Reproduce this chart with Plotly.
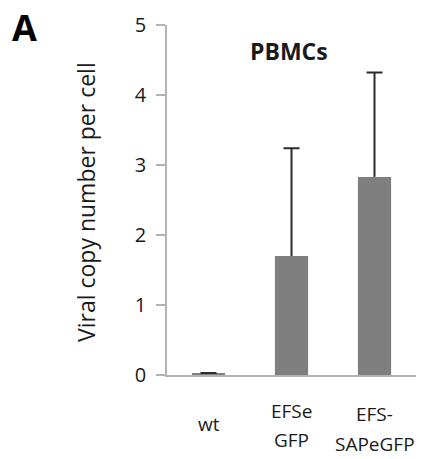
import plotly.graph_objects as go

categories = ["wt", "EFSe GFP", "EFS-SAPeGFP"]
label_lines = [["wt"], ["EFSe", "GFP"], ["EFS-", "SAPeGFP"]]
values = [0.03, 1.70, 2.83]
errors = [0.0, 1.54, 1.49]
y_ticks = [0, 1, 2, 3, 4, 5]

FONT = "Open Sans"
TXT = "#1a1a1a"
xs = list(range(len(categories)))
tops = [v + e for v, e in zip(values, errors)]

fig = go.Figure()
fig.add_trace(go.Bar(
    x=xs, y=values, width=0.4,
    marker=dict(color="#7f7f7f", line=dict(width=0)),
    error_y=dict(type="data", array=errors, arrayminus=[0] * len(errors), symmetric=False,
                 color="#2b2b2b", thickness=2, width=0),
    showlegend=False, hoverinfo="skip",
))
# caps at the top of each error bar
fig.add_trace(go.Scatter(
    x=xs, y=tops, mode="markers", marker=dict(size=1, color="rgba(0,0,0,0)"),
    error_y=dict(type="data", array=[0] * len(tops), color="#2b2b2b", thickness=2, width=8),
    showlegend=False, hoverinfo="skip",
))

W, H = 427, 459
ml, mr, mt, mb = 167, 11, 23, 84
fig.update_layout(
    width=W, height=H, margin=dict(l=ml, r=mr, t=mt, b=mb),
    plot_bgcolor="white", paper_bgcolor="white",
    font=dict(family=FONT, color=TXT),
    xaxis=dict(range=[-0.5, 2.5], showticklabels=False, ticks="", showgrid=False,
               zeroline=False, showline=True, linecolor="#b3b3b3", linewidth=1.5),
    yaxis=dict(range=[0, 5], tickvals=y_ticks, ticks="outside", ticklen=9, tickwidth=1.5,
               tickcolor="#b3b3b3", showgrid=False, zeroline=False, showline=True,
               linecolor="#b3b3b3", linewidth=1.5,
               tickfont=dict(size=20, family=FONT, color=TXT), ticklabelstandoff=6),
)

plot_w = W - ml - mr
plot_h = H - mt - mb
def py(pix):
    return (H - mb - pix) / plot_h
def px(pix):
    return (pix - ml) / plot_w

label_y = [[424], [411, 440], [414, 444]]
ann = []
for i, lines in enumerate(label_lines):
    for ln, yy in zip(lines, label_y[i]):
        ann.append(dict(x=i, xref="x", y=py(yy), yref="paper", text=ln, showarrow=False,
                        yanchor="middle", xanchor="center", font=dict(size=19, family=FONT)))

ann.append(dict(x=px(289), xref="paper", y=py(49), yref="paper", yanchor="middle", xanchor="center",
                text="<b>PBMCs</b>", showarrow=False, font=dict(size=23, family=FONT)))
ann.append(dict(x=px(86), xref="paper", y=py(201), yref="paper", yanchor="middle", xanchor="center",
                text="Viral copy number per cell", textangle=-90, showarrow=False,
                font=dict(size=23, family=FONT)))
ann.append(dict(x=px(24), xref="paper", y=py(26), yref="paper", yanchor="middle", xanchor="center",
                text="<b>A</b>", showarrow=False, font=dict(size=36, family=FONT, color="black")))
fig.update_layout(annotations=ann)

fig.write_html("out.html")
